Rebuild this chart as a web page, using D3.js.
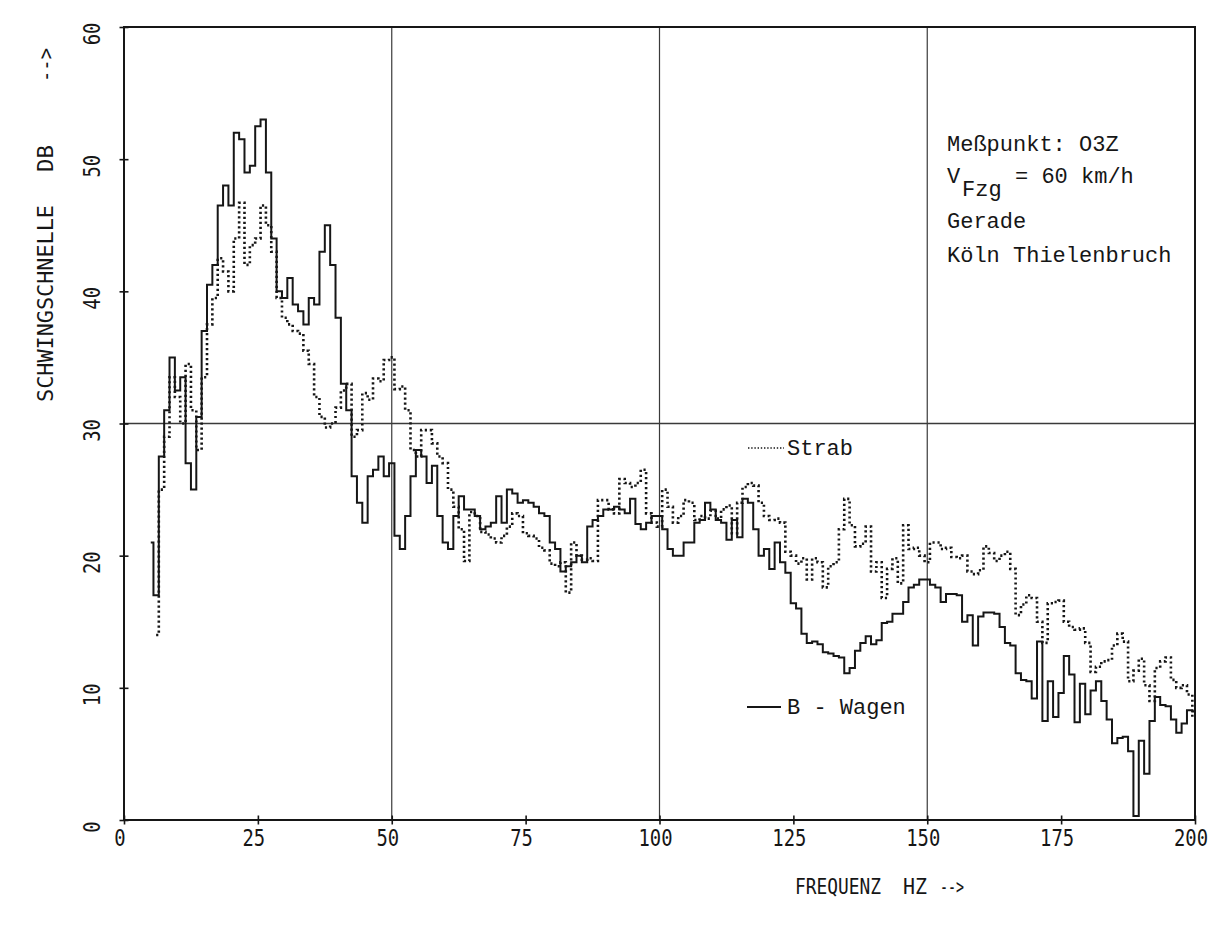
<!DOCTYPE html>
<html><head><meta charset="utf-8">
<script src="https://cdn.jsdelivr.net/npm/d3@7"></script>
<style>body{margin:0;background:#fff}</style>
</head><body>
<svg id="chart" width="1232" height="925"></svg>
<script>
// ---------- data ----------
const freqStart = 5;      // Hz, first spectral line
const freqStep = 1;       // Hz resolution of the arrays below
// B - Wagen (solid), 5..200 Hz
const bWagen = [
  21, 17, 27.5, 31, 35, 32.5, 33.5, 27, 25, 30.5,
  37, 40.5, 42, 46.5, 48, 46.5, 52, 51.5, 49, 49.5,
  52.5, 53, 49, 44, 40, 39.5, 41, 39, 38.5, 37.5,
  39.5, 39, 43, 45, 42, 38, 33, 31, 26, 24,
  22.5, 26, 26.5, 27.5, 26, 27, 21.5, 20.5, 23, 26,
  28, 27.5, 25.5, 26.8, 23, 21, 20.5, 23, 24.5, 23.5,
  23.5, 23, 22, 22.2, 22.5, 24.5, 22.5, 25, 24.7, 24,
  24.2, 24, 23.7, 23.2, 23, 21, 20.5, 18.8, 19.2, 19.5,
  20, 19.5, 22.2, 22.7, 23, 23.5, 23.5, 23.7, 23.5, 23.2,
  24.3, 22.4, 22, 22.5, 23, 23, 22, 20.5, 20, 20,
  21, 21, 22.5, 22.7, 24, 23.5, 22.7, 22.5, 21.2, 22.7,
  21.4, 24.3, 24, 22, 20, 20.5, 19, 21, 19.5, 18.7,
  16.4, 16, 14.1, 13.4, 13.5, 13.3, 12.7, 12.6, 12.4, 12.3,
  11.1, 11.5, 12.8, 13.4, 13.9, 13.3, 13.6, 14.9, 15, 15.6,
  15.6, 16.5, 17.6, 17.8, 18.2, 18.2, 17.8, 17.6, 16.5, 17.1,
  17.1, 17, 15, 15.5, 13.2, 15.4, 15.7, 15.7, 15.6, 14.6,
  13.4, 13.2, 11.1, 10.6, 10.5, 9.2, 13.5, 7.5, 10.5, 7.8,
  9.6, 12.4, 11, 7.4, 10.3, 8, 9.8, 10.5, 9, 7.6,
  5.8, 6.2, 6.3, 5.2, 0.3, 6, 3.5, 7.5, 9.3, 8.7,
  8.6, 7.6, 6.6, 7.3, 8.3, 8.2
];
// Strab (dotted), 5..200 Hz
const strab = [
  null, 14, 25, 29, 33.5, 32, 30, 34.5, 31, 28,
  33.5, 37.5, 39.5, 42.5, 41.5, 40, 44, 46.7, 42, 43.5,
  44, 46.5, 45, 43, 39.5, 38, 37.5, 37, 36.8, 35.5,
  34.5, 32, 30.5, 29.7, 30, 31.2, 32.5, 33, 29, 29.5,
  32.3, 31.8, 33.4, 33.2, 34.8, 35, 32.6, 32.8, 31, 28,
  27.5, 29.5, 29.5, 28.5, 27.5, 27, 25, 23.7, 22, 19.6,
  23.3, 23, 21.8, 21.6, 21.3, 21, 21.5, 22.2, 23.2, 23,
  21.7, 21.5, 21.3, 20.6, 20.4, 19.4, 19.2, 19.5, 17.2, 21,
  20, 19.7, 19.8, 19.6, 24.2, 24.2, 23.5, 23.2, 25.8, 25.5,
  25.2, 25.5, 26.5, 23.2, 22.5, 22.2, 25, 23.7, 22.5, 23,
  24.2, 24, 22.7, 23, 22.8, 23.4, 22.8, 23.5, 23.8, 21.7,
  24, 25.2, 25.5, 25.3, 24, 23, 22.7, 22.8, 22.5, 20.3,
  20, 19.4, 19.8, 18.2, 19.8, 19.5, 17.6, 19.2, 19.5, 22,
  24.3, 22.3, 20.7, 20.9, 22.2, 18.8, 19.5, 16.8, 19, 19.8,
  17.9, 22.3, 20.5, 20.6, 20, 19.5, 21, 21, 20.5, 20.6,
  19.9, 19.8, 20, 18.8, 18.6, 18.9, 20.7, 20.2, 19.6, 20,
  20.3, 19, 15.5, 16.3, 17, 16.8, 15, 13.4, 16.4, 16.5,
  16.6, 15, 14.6, 14.4, 14.5, 13.4, 11.2, 11.6, 12, 12.1,
  13.2, 14.1, 13.5, 10.5, 11.3, 12.2, 10.2, 9, 11.5, 12,
  12.3, 10.6, 10, 10.2, 9.5, 7.8
];
const xTicks = [0, 25, 50, 75, 100, 125, 150, 175, 200];
const yTicks = [0, 10, 20, 30, 40, 50, 60];
const xGrid = [50, 100, 150];
const yGrid = [30];
const seriesNames = ["Strab", "B - Wagen"];
const infoLines = ["Meßpunkt: O3Z", "Gerade", "Köln Thielenbruch"];
const speedMain = "V", speedSub = "Fzg", speedRest = "= 60 km/h";
const xTitle = ["FREQUENZ", "HZ", "-->"];
const yTitle = ["SCHWINGSCHNELLE", "DB", "-->"];

// ---------- drawing ----------
const svg = d3.select("#chart");
const ink = "#161616";
const L = 124, R = 1195, T = 27, B = 820;
const x = d3.scaleLinear().domain([0, 200]).range([L, R]);
const y = d3.scaleLinear().domain([0, 60]).range([B, T]);

svg.append("rect").attr("width", 1232).attr("height", 925).attr("fill", "#fff");

// grid
svg.append("g").selectAll("line").data(xGrid).join("line")
  .attr("x1", d => x(d)).attr("x2", d => x(d)).attr("y1", T).attr("y2", B)
  .attr("stroke", "#3a3a3a").attr("stroke-width", 1.2);
svg.append("g").selectAll("line").data(yGrid).join("line")
  .attr("x1", L).attr("x2", R).attr("y1", d => y(d)).attr("y2", d => y(d))
  .attr("stroke", "#3a3a3a").attr("stroke-width", 1.3);

// series
const toPts = arr => arr.map((v, i) => ({f: freqStart + i * freqStep, v}));
const line = d3.line().defined(d => d.v !== null)
  .x(d => x(d.f)).y(d => y(d.v)).curve(d3.curveStep);

svg.append("path").datum(toPts(strab)).attr("d", line)
  .attr("fill", "none").attr("stroke", ink).attr("stroke-width", 2.6)
  .attr("stroke-dasharray", "2.2,2.8");
svg.append("path").datum(toPts(bWagen)).attr("d", line)
  .attr("fill", "none").attr("stroke", ink).attr("stroke-width", 2)
  .attr("stroke-linejoin", "miter");

// frame
svg.append("rect").attr("x", L).attr("y", T).attr("width", R - L).attr("height", B - T)
  .attr("fill", "none").attr("stroke", ink).attr("stroke-width", 2);

// axes ticks (crossing the frame)
const xAxis = d3.axisBottom(x).tickValues(xTicks).tickSize(9).tickSizeOuter(0).tickFormat("");
const gx = svg.append("g").attr("transform", `translate(0,${B - 4.5})`).call(xAxis);
gx.select(".domain").remove();
gx.selectAll("line").attr("stroke", ink).attr("stroke-width", 1.6);
const yAxis = d3.axisLeft(y).tickValues(yTicks).tickSize(9).tickSizeOuter(0).tickFormat("");
const gy = svg.append("g").attr("transform", `translate(${L + 4.5},0)`).call(yAxis);
gy.select(".domain").remove();
gy.selectAll("line").attr("stroke", ink).attr("stroke-width", 1.6);

// tick labels (plotter style, condensed mono)
const lblFont = "'DejaVu Sans Mono', monospace";
svg.append("g").selectAll("text").data(xTicks).join("text")
  .attr("transform", d => `translate(${x(d) - 4},${B + 26}) scale(0.82,1)`)
  .attr("text-anchor", "middle").attr("font-family", lblFont).attr("font-size", 23)
  .attr("fill", ink).text(d => d);
svg.append("g").selectAll("text").data(yTicks).join("text")
  .attr("transform", d => `translate(${L - 24},${y(d) + 7}) rotate(-90) scale(0.82,1)`)
  .attr("text-anchor", "middle").attr("font-family", lblFont).attr("font-size", 23)
  .attr("fill", ink).text(d => d);

// axis titles
const yTitlePos = [[402, 205], [172, 145], [82, 48]];
yTitle.forEach((t, i) => {
  svg.append("text")
    .attr("transform", `translate(53,${yTitlePos[i][0]}) rotate(-90)`)
    .attr("font-family", lblFont).attr("font-size", 21).attr("fill", ink)
    .attr("textLength", yTitlePos[i][0] - yTitlePos[i][1]).attr("lengthAdjust", "spacingAndGlyphs")
    .text(t);
});
const xTitlePos = [[795, 881], [903, 927], [940, 964]];
xTitle.forEach((t, i) => {
  svg.append("text")
    .attr("x", xTitlePos[i][0]).attr("y", 894)
    .attr("font-family", lblFont).attr("font-size", 22).attr("fill", ink)
    .attr("textLength", xTitlePos[i][1] - xTitlePos[i][0]).attr("lengthAdjust", "spacingAndGlyphs")
    .text(t);
});

// info block
const infoFont = "'Liberation Mono', 'Courier New', monospace";
const info = svg.append("g").attr("font-family", infoFont).attr("font-size", 22).attr("fill", ink);
info.append("text").attr("x", 947).attr("y", 151).text(infoLines[0]);
info.append("text").attr("x", 947).attr("y", 183).text(speedMain);
info.append("text").attr("x", 962).attr("y", 196).text(speedSub);
info.append("text").attr("x", 1015).attr("y", 183).text(speedRest);
info.append("text").attr("x", 947).attr("y", 228).text(infoLines[1]);
info.append("text").attr("x", 947).attr("y", 262).text(infoLines[2]);

// legend
const leg = svg.append("g").attr("font-family", infoFont).attr("font-size", 22).attr("fill", ink);
leg.append("line").attr("x1", 748).attr("x2", 784).attr("y1", 448).attr("y2", 448)
  .attr("stroke", ink).attr("stroke-width", 1.6).attr("stroke-dasharray", "1.4,1.8");
leg.append("text").attr("x", 787).attr("y", 455).text(seriesNames[0]);
leg.append("line").attr("x1", 747).attr("x2", 781).attr("y1", 707).attr("y2", 707)
  .attr("stroke", ink).attr("stroke-width", 2);
leg.append("text").attr("x", 787).attr("y", 714).text(seriesNames[1]);
</script>
</body></html>
